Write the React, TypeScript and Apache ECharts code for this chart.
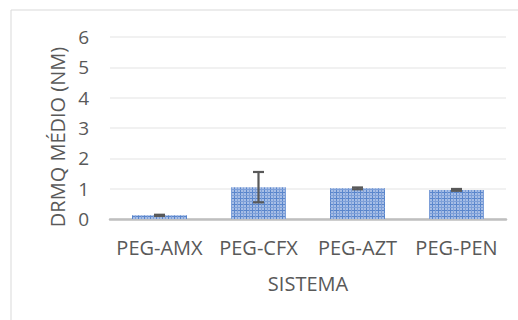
import React, { useEffect, useRef } from "react";
import * as echarts from "echarts";

const categories = ["PEG-AMX", "PEG-CFX", "PEG-AZT", "PEG-PEN"];
const means = [0.12, 1.05, 1.01, 0.96];
const errors = [0.02, 0.5, 0.03, 0.03];
const yTicks = [0, 1, 2, 3, 4, 5, 6];

function makePattern(): HTMLCanvasElement {
  const c = document.createElement("canvas");
  c.width = 6;
  c.height = 6;
  const ctx = c.getContext("2d")!;
  ctx.fillStyle = "#a7bee6";
  ctx.fillRect(0, 0, 6, 6);
  ctx.fillStyle = "#5a86cc";
  ctx.fillRect(0, 0, 6, 1);
  ctx.fillRect(0, 0, 1, 6);
  ctx.fillStyle = "#7d9fd8";
  ctx.fillRect(0, 3, 6, 1);
  ctx.fillRect(3, 0, 1, 6);
  return c;
}

export default function App() {
  const ref = useRef<HTMLDivElement>(null);
  useEffect(() => {
    if (!ref.current) return;
    const chart = echarts.init(ref.current, null, { renderer: "svg" });
    const pattern = makePattern();
    const font = "'Open Sans', sans-serif";
    chart.setOption({
      animation: false,
      backgroundColor: "#ffffff",
      grid: { left: 110, right: 12, top: 37, bottom: 101 },
      graphic: [
        {
          type: "rect",
          shape: { x: 11, y: 10, width: 530, height: 330 },
          style: { fill: "none", stroke: "#d9d9d9", lineWidth: 1 },
          silent: true,
        },
        {
          type: "text",
          x: 57,
          y: 137,
          rotation: Math.PI / 2,
          style: {
            text: "DRMQ MÉDIO (NM)",
            fontFamily: font,
            fontSize: 20,
            fill: "#595959",
            textAlign: "center",
            textVerticalAlign: "middle",
          },
        },
        {
          type: "text",
          x: 308,
          y: 283,
          style: {
            text: "SISTEMA",
            fontFamily: font,
            fontSize: 20,
            fill: "#595959",
            textAlign: "center",
            textVerticalAlign: "middle",
          },
        },
      ],
      xAxis: {
        type: "category",
        data: categories,
        axisLine: { lineStyle: { color: "#bfbfbf", width: 2.5 } },
        axisTick: { show: false },
        axisLabel: {
          interval: 0,
          hideOverlap: false,
          color: "#595959",
          fontFamily: font,
          fontSize: 20,
          margin: 18,
        },
      },
      yAxis: {
        type: "value",
        min: 0,
        max: 6,
        interval: 1,
        axisLine: { show: false },
        axisTick: { show: false },
        splitLine: { lineStyle: { color: "#ececec", width: 1.5 } },
        axisLabel: {
          color: "#595959",
          fontFamily: font,
          fontSize: 19,
          margin: 21,
          formatter: (v: number) => (yTicks.includes(v) ? String(v) : ""),
        },
      },
      series: [
        {
          type: "bar",
          data: means,
          barWidth: 55,
          itemStyle: {
            color: { image: pattern, repeat: "repeat" },
          },
        },
        {
          type: "custom",
          data: means.map((m, i) => [i, m - errors[i], m + errors[i]]),
          z: 10,
          renderItem: (params: any, api: any) => {
            const x = api.value(0);
            const lo = api.coord([x, api.value(1)]);
            const hi = api.coord([x, api.value(2)]);
            const hw = 5.5;
            const style = { stroke: "#595959", lineWidth: 2.2 };
            return {
              type: "group",
              children: [
                { type: "line", shape: { x1: lo[0], y1: lo[1], x2: hi[0], y2: hi[1] }, style },
                { type: "line", shape: { x1: hi[0] - hw, y1: hi[1], x2: hi[0] + hw, y2: hi[1] }, style },
                { type: "line", shape: { x1: lo[0] - hw, y1: lo[1], x2: lo[0] + hw, y2: lo[1] }, style },
              ],
            };
          },
        },
      ],
    });
    return () => chart.dispose();
  }, []);
  return <div ref={ref} style={{ width: 518, height: 320, position: "absolute", left: 0, top: 0 }} />;
}
